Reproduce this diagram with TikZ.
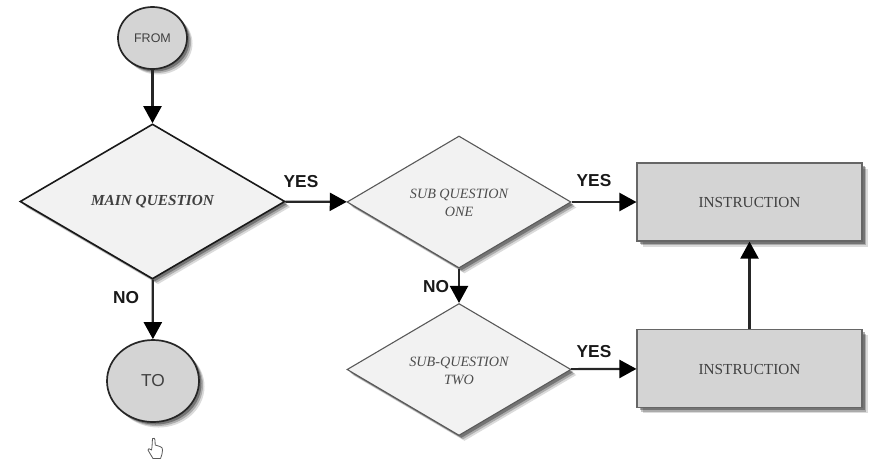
\documentclass[tikz,border=0pt]{standalone}
\usepackage{fontspec}
\setmainfont{Liberation Serif}
\setsansfont{Liberation Sans}
\usetikzlibrary{shapes.geometric,shadows,arrows.meta}
\definecolor{boxgray}{gray}{0.83}
\definecolor{paleface}{gray}{0.95}
\newcommand{\lowertext}[1]{\raisebox{-1pt}[\height][\depth]{#1}}
\tikzset{
  softshadow/.style={
    general shadow={fill=black,opacity=.14,shadow xshift=5.5pt,shadow yshift=-5.5pt},
    general shadow={fill=black,opacity=.22,shadow xshift=4pt,shadow yshift=-4pt},
    general shadow={fill=black,opacity=.32,shadow xshift=2.5pt,shadow yshift=-2.5pt}},
  circlebox/.style={ellipse,inner sep=0pt,draw=black!85,line width=1.7pt,fill=boxgray,softshadow,font=\sffamily,text=black!75},
  mainq/.style={diamond,aspect=1,inner sep=0pt,draw=black!90,line width=1.6pt,fill=paleface,softshadow,
     minimum width=265pt,minimum height=155pt,font=\fontsize{15.3}{18}\selectfont\bfseries\itshape,text=black!75},
  subq/.style={diamond,aspect=1,inner sep=0pt,draw=black!65,line width=1.1pt,fill=paleface,softshadow,
     minimum width=224pt,minimum height=132pt,align=center,font=\fontsize{14.2}{18}\selectfont\itshape,text=black!70},
  instr/.style={rectangle,inner sep=0pt,draw=black!60,line width=1.1pt,fill=boxgray,softshadow,
     minimum width=225pt,minimum height=78pt,font=\fontsize{15.3}{18}\selectfont,text=black!75},
  flow/.style={draw=black!85,line width=2.2pt,-{Triangle[length=17pt,width=18pt,color=black]}},
  answer/.style={inner sep=0pt,font=\sffamily\bfseries\fontsize{17.3}{19}\selectfont,text=black!90}
}
\begin{document}
\begin{tikzpicture}[x=1pt,y=-1pt]
\useasboundingbox (0,0) rectangle (869,459);
\node[circlebox,minimum width=69pt,minimum height=62pt,font=\sffamily\fontsize{12.5}{15}\selectfont] (from) at (152.5,38) {FROM};
\node[mainq] (main) at (152.5,201.5) {MAIN QUESTION};
\node[circlebox,minimum width=92pt,minimum height=82pt,font=\sffamily\fontsize{17.3}{20}\selectfont] (to) at (153,381) {TO};
\node[subq] (subone) at (459,202) {\lowertext{SUB QUESTION}\\\lowertext{ONE}};
\node[subq] (subtwo) at (459,369.5) {\lowertext{SUB-QUESTION}\\\lowertext{TWO}};
\node[instr] (instone) at (749.5,202) {\lowertext{INSTRUCTION}};
\node[instr] (insttwo) at (749.5,368.5) {\lowertext{INSTRUCTION}};
\draw[flow] (from) -- (main);
\draw[flow] (main) -- (to);
\draw[flow] (main) -- (subone);
\draw[flow] (subone) -- (subtwo);
\draw[flow] (subone) -- (instone);
\draw[flow] (subtwo) -- (insttwo);
\draw[flow] (insttwo) -- (instone);
\node[answer] (yesmain) at (301,182) {YES};
\node[answer] (nomain) at (126,298) {NO};
\node[answer] (yesone) at (594,181) {YES};
\node[answer] (noone) at (436,287) {NO};
\node[answer] (yestwo) at (594,352) {YES};
% hand cursor
\draw[fill=white,draw=black!65,line width=.8pt,line join=round]
  (152.5,438.5) .. controls (154,437.5) and (155,438.5) .. (155,440)
  -- (155.2,445) -- (160,446.5) .. controls (162,447.2) and (162.5,448) .. (162.5,450)
  -- (162,454) -- (160.5,458.5) -- (153,458.5) -- (150,453.5) -- (148,450)
  .. controls (147.8,448.5) and (149.5,448) .. (151.5,450) -- (152,447) -- cycle;
\end{tikzpicture}
\end{document}
